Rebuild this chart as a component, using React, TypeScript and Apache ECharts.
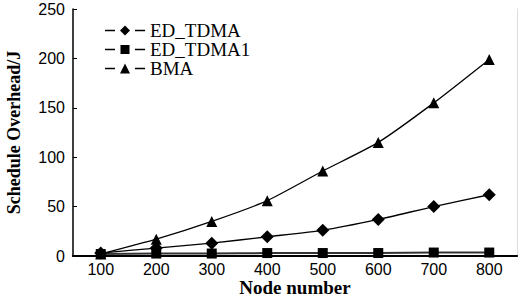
import React, { useEffect, useRef } from "react";
import * as echarts from "echarts";

const nodeNumbers = [100, 200, 300, 400, 500, 600, 700, 800];
const edTdma = [3, 8, 13, 19.5, 26, 37, 50, 62];
const edTdma1 = [2, 2.5, 2.5, 3, 3, 3, 3.5, 3.5];
const bma = [2, 17, 35, 56, 86, 115, 155, 199];
const xTicks = [100, 200, 300, 400, 500, 600, 700, 800];

const dashes = "M0,4.3H10V5.7H0Z M30,4.3H40V5.7H30Z";
const iconDiamond = "path://" + dashes + " M15,5L20,0L25,5L20,10Z";
const iconSquare = "path://" + dashes + " M15.5,0.5H24.5V9.5H15.5Z";
const iconTriangle = "path://" + dashes + " M15,10L20,0L25,10Z";

export default function App() {
  const ref = useRef<HTMLDivElement>(null);
  useEffect(() => {
    document.body.style.margin = "0";
    const chart = echarts.init(ref.current!, null, { renderer: "svg" });
    const mk = (arr: number[]) => nodeNumbers.map((x, i) => [x, arr[i]]);
    chart.setOption({
      animation: false,
      backgroundColor: "#fff",
      grid: { left: 73, right: 2, top: 9, bottom: 43, containLabel: false, outerBoundsMode: "none" },
      legend: {
        orient: "vertical",
        left: 100,
        top: 16,
        itemWidth: 40,
        itemHeight: 10,
        itemGap: 0,
        itemTextGap: 8,
        textStyle: {
          fontFamily: "Liberation Serif",
          fontSize: 19,
          lineHeight: 19,
          color: "#000",
        },
        data: [
          { name: "ED_TDMA", icon: iconDiamond },
          { name: "ED_TDMA1", icon: iconSquare },
          { name: "BMA", icon: iconTriangle },
        ],
      },
      xAxis: [
        {
          type: "value",
          min: 50,
          max: 850,
          name: "Node number",
          nameLocation: "middle",
          nameGap: 22,
          nameMoveOverlap: false,
          nameTextStyle: {
            fontFamily: "Liberation Serif",
            fontWeight: "bold",
            fontSize: 19,
            color: "#000",
          },
          axisLine: { show: true, onZero: false, lineStyle: { color: "#000", width: 2 } },
          axisTick: { show: false, customValues: xTicks },
          axisLabel: {
            customValues: xTicks,
            margin: 5,
            fontFamily: "Liberation Sans",
            fontSize: 16,
            color: "#000",
          },
          splitLine: { show: false },
        },
        {
          type: "value",
          position: "top",
          min: 50,
          max: 850,
          axisLine: { show: true, lineStyle: { color: "#000", width: 1.5 } },
          axisTick: { show: false },
          axisLabel: { show: false },
          splitLine: { show: false },
        },
      ],
      yAxis: [
        {
          type: "value",
          min: 0,
          max: 250,
          interval: 50,
          name: "Schedule Overhead/J",
          nameLocation: "middle",
          nameGap: 50,
          nameMoveOverlap: false,
          nameTextStyle: {
            fontFamily: "Liberation Serif",
            fontWeight: "bold",
            fontSize: 18,
            color: "#000",
          },
          axisLine: { show: true, lineStyle: { color: "#000", width: 1.5 } },
          axisTick: { show: true, inside: true, length: 4, lineStyle: { color: "#000" } },
          axisLabel: {
            margin: 8,
            fontFamily: "Liberation Sans",
            fontSize: 16,
            color: "#000",
          },
          splitLine: { show: false },
        },
        {
          type: "value",
          position: "right",
          min: 0,
          max: 250,
          interval: 50,
          axisLine: { show: true, lineStyle: { color: "#ddd", width: 1 } },
          axisTick: { show: false },
          axisLabel: { show: false },
          splitLine: { show: false },
        },
      ],
      series: [
        {
          name: "ED_TDMA",
          type: "line",
          data: mk(edTdma),
          smooth: 0.2,
          symbol: "diamond",
          symbolSize: 13,
          color: "#000",
          lineStyle: { color: "#000", width: 1.3 },
          itemStyle: { color: "#000" },
        },
        {
          name: "ED_TDMA1",
          type: "line",
          data: mk(edTdma1),
          smooth: 0.2,
          symbol: "rect",
          symbolSize: 10,
          color: "#000",
          lineStyle: { color: "#333", width: 2 },
          itemStyle: { color: "#000" },
        },
        {
          name: "BMA",
          type: "line",
          data: mk(bma),
          smooth: 0.2,
          symbol: "triangle",
          symbolSize: 11,
          color: "#000",
          lineStyle: { color: "#000", width: 1.3 },
          itemStyle: { color: "#000" },
        },
      ],
    });
    return () => chart.dispose();
  }, []);
  return (
    <div
      ref={ref}
      style={{ position: "fixed", left: 0, top: 0, width: 519, height: 299 }}
    />
  );
}
